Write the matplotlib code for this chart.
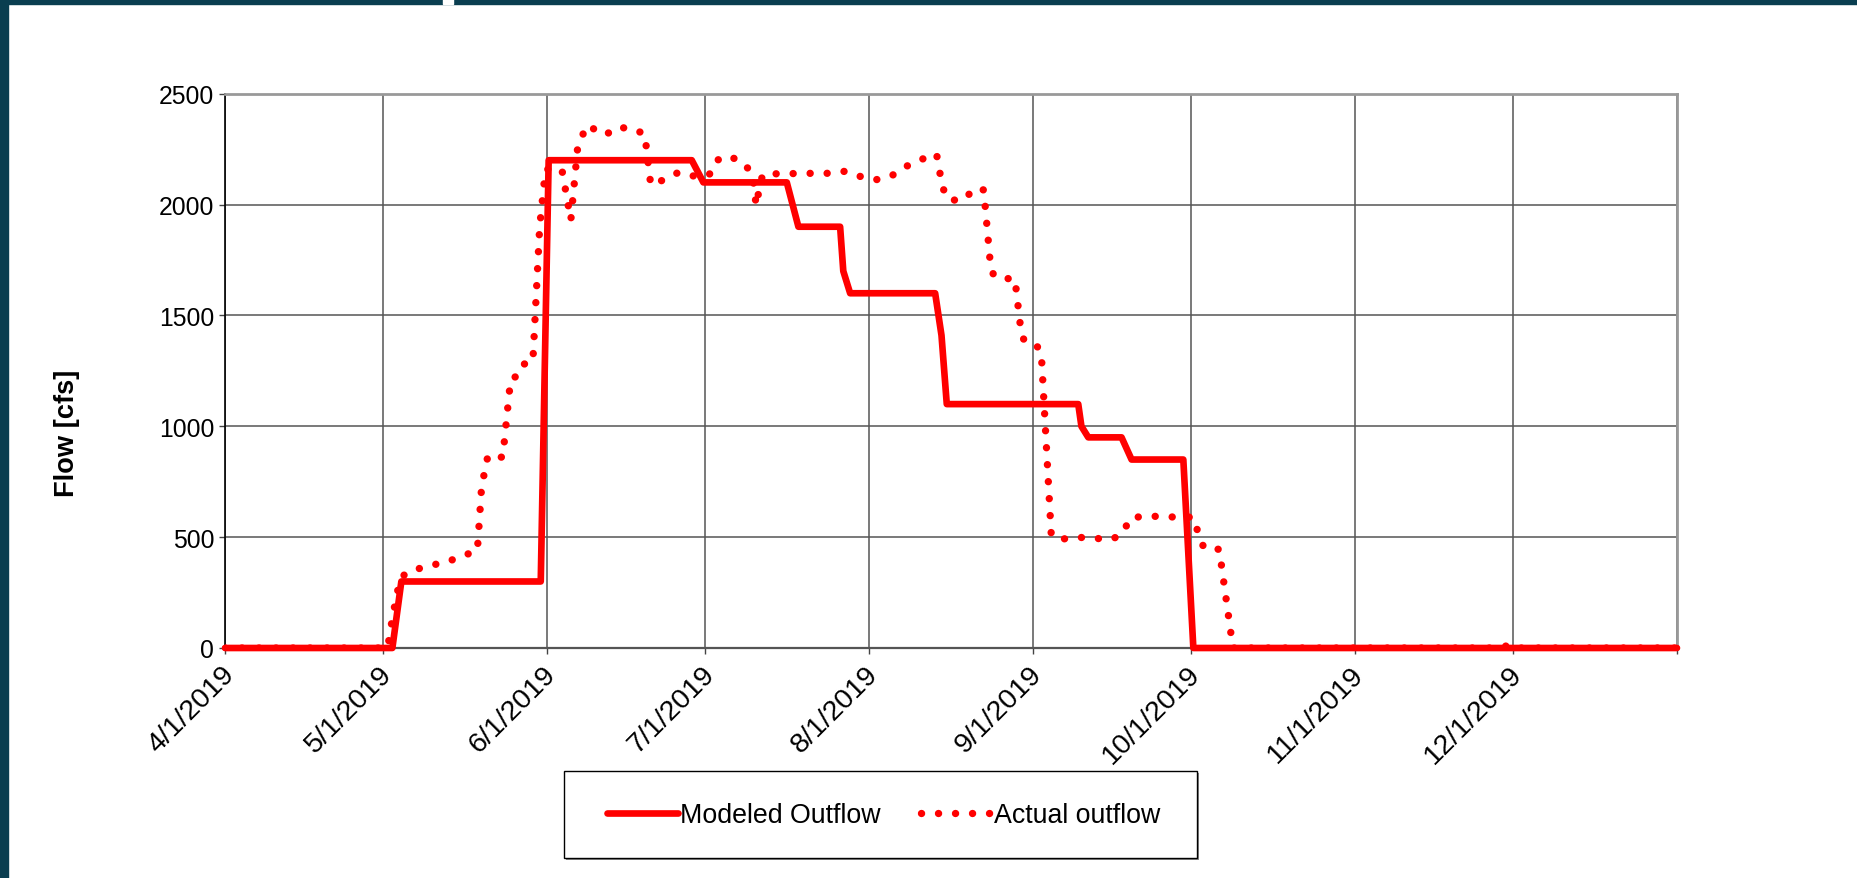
import pandas as pd
import matplotlib
matplotlib.use("Agg")
import matplotlib.pyplot as plt
from matplotlib.patches import Rectangle
from matplotlib.lines import Line2D
from matplotlib.transforms import ScaledTranslation

plt.rcParams['font.family'] = ['Liberation Sans', 'DejaVu Sans']

start = pd.Timestamp("2019-04-01")
end = pd.Timestamp("2020-01-01")

# modeled outflow: days after 4/1/2019, flow in cfs
modeled_day = [0, 31.7, 33.4, 59.8, 61.3, 88.4, 90.6, 106.4, 108.6, 116.5, 117.1,
               118.4, 134.5, 135.7, 136.7, 161.6, 162.2, 163.5, 169.8, 171.7,
               181.5, 183.4, 275]
modeled_cfs = [0, 0, 300, 300, 2200, 2200, 2100, 2100, 1900, 1900, 1700,
               1600, 1600, 1410, 1100, 1100, 1000, 950, 950, 850,
               850, 0, 0]

# actual outflow
actual_day = [0, 30.8, 31.8, 33.1, 34.2, 36.4, 39.3, 42.3, 45.1, 47.8, 48.6, 49.8,
              52.6, 54.1, 55.1, 56.2, 58.3, 59.6, 60.7, 63.8, 65.5, 66.8, 68.5,
              70.8, 72.1, 74.1, 76.9, 79.5, 80.6, 81.1, 83.2, 85.9, 88.6, 91.7,
              93.1, 95.3, 98.1, 99.9, 100.6, 101.5, 102.0, 111.6, 114.6, 117.4,
              120.3, 123.3, 126.1, 128.6, 131.5, 134.2, 134.8, 135.9, 137.2,
              140.1, 141.8, 143.7, 145.0, 145.6, 146.8, 149.6, 150.8, 151.5,
              153.8, 154.6, 156.5, 158.8, 161.8, 165.0, 168.1, 170.1, 171.4,
              174.3, 177.3, 180.4, 183.4, 184.3, 185.4, 188.3, 190.9, 242, 243,
              244, 275]
actual_cfs = [0, 0, 150, 305, 337, 356, 374, 391, 416, 440, 728, 868,
              860, 1213, 1224, 1278, 1290, 1900, 2159, 2159, 1930, 2260, 2357,
              2330, 2314, 2348, 2344, 2318, 2095, 2086, 2115, 2145, 2129, 2134,
              2199, 2220, 2190, 2138, 1995, 2110, 2138, 2141, 2141, 2150,
              2127, 2112, 2127, 2168, 2198, 2230, 2223, 2076, 2019,
              2023, 2072, 2066, 1720, 1680, 1666, 1666, 1420, 1379,
              1361, 1330, 505, 492, 499, 494, 491, 520, 586,
              595, 593, 590, 590, 520, 451, 445, 0, 0, 15,
              0, 0]

modeled_dates = start + pd.to_timedelta(modeled_day, unit="D")
actual_dates = start + pd.to_timedelta(actual_day, unit="D")

tick_dates = pd.date_range(start, end, freq="MS")
tick_labels = [f"{d.month}/{d.day}/{d.year}" for d in tick_dates[:-1]] + [""]
y_ticks = [0, 500, 1000, 1500, 2000, 2500]

dots = (0, (0.01, 2.3))

fig = plt.figure(figsize=(18.57, 8.79), dpi=100, facecolor="white")

# dark slide frame around the chart
teal = "#0a3e50"
fig.patches.append(Rectangle((0, 0), 8 / 1857, 1, transform=fig.transFigure, color=teal, zorder=0))
fig.patches.append(Rectangle((0, 1 - 5 / 879), 1, 5 / 879, transform=fig.transFigure, color=teal, zorder=0))
fig.patches.append(Rectangle((443 / 1857, 1 - 5 / 879), 10 / 1857, 5 / 879, transform=fig.transFigure,
                             color="white", zorder=1))

ax = fig.add_axes([225 / 1857, 1 - 649 / 879, 1452 / 1857, 554.3 / 879])

ax.plot(actual_dates, actual_cfs, color="red", lw=5.3, linestyle=dots,
        dash_capstyle="round", zorder=3)
ax.plot(modeled_dates, modeled_cfs, color="red", lw=4.8, solid_joinstyle="round",
        solid_capstyle="round", zorder=4, clip_on=False)

ax.set_xlim(start, end)
ax.set_ylim(0, 2500)
ax.set_xticks(tick_dates)
ax.set_xticklabels(tick_labels)
ax.set_yticks(y_ticks)
ax.grid(True, color="#555555", lw=1.1)
ax.set_axisbelow(True)

ax.tick_params(axis="both", direction="out", length=4.3, width=1, color="#444444")
ax.tick_params(axis="y", pad=3.4, labelsize=17.8)
ax.tick_params(axis="x", pad=5, labelsize=20.5)
offset = ScaledTranslation(-4 / 100, 0, fig.dpi_scale_trans)
for lab in ax.get_xticklabels():
    lab.set_rotation(45)
    lab.set_ha("right")
    lab.set_va("top")
    lab.set_rotation_mode("anchor")
    lab.set_transform(lab.get_transform() + offset)

ax.spines["left"].set_color("black")
ax.spines["left"].set_linewidth(1.2)
ax.spines["bottom"].set_color("#555555")
ax.spines["bottom"].set_linewidth(1.6)
ax.spines["top"].set_color("#999999")
ax.spines["top"].set_linewidth(2.0)
ax.spines["right"].set_color("#999999")
ax.spines["right"].set_linewidth(2.0)

fig.text(67.5 / 1857, 1 - 433 / 879, "Flow [cfs]", rotation=90, fontsize=19.6,
         fontweight="bold", ha="center", va="center")

# legend box with a small grey shadow
bx, by, bw, bh = 564 / 1857, 1 - 859 / 879, 633 / 1857, 87 / 879
fig.patches.append(Rectangle((bx + 2 / 1857, by - 2 / 879), bw, bh, transform=fig.transFigure,
                             facecolor="#8a8a8a", edgecolor="none", zorder=1))
fig.patches.append(Rectangle((bx, by), bw, bh, transform=fig.transFigure,
                             facecolor="white", edgecolor="black", lw=1.0, zorder=2))

handles = [Line2D([], [], color="red", lw=4.8, solid_capstyle="round"),
           Line2D([], [], color="red", lw=5.3, linestyle=dots, dash_capstyle="round")]
fig.legend(handles, ["Modeled Outflow", "Actual outflow"], loc="center",
           bbox_to_anchor=(884 / 1857, 1 - 816 / 879), ncol=2, frameon=False,
           fontsize=19.3, handlelength=2.65, handletextpad=0.08, columnspacing=1.5)

fig.savefig("out.png", dpi=100, facecolor="white")
